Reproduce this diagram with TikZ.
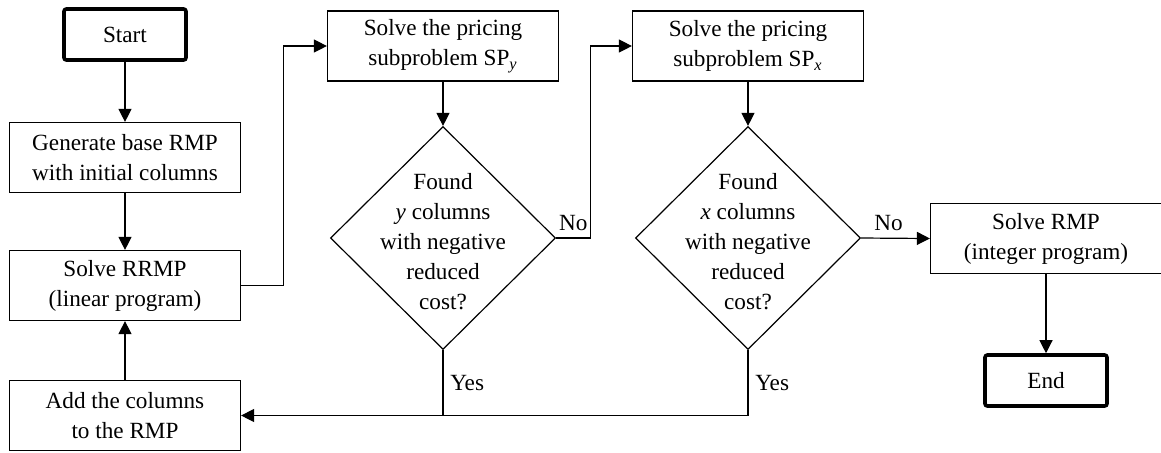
\documentclass[tikz,border=0pt]{standalone}
\usepackage{fontspec}
\setmainfont{Liberation Serif}
\usetikzlibrary{shapes.geometric,arrows.meta}

\tikzset{
  procbox/.style={draw, line width=0.6pt, minimum width=115.5pt, minimum height=35pt, inner sep=0pt, align=center},
  termbox/.style={draw, line width=1.8pt, rounded corners=1.2pt, minimum width=61pt, minimum height=25.5pt, inner sep=0pt},
  decbox/.style={draw, diamond, line width=0.6pt, minimum width=112.5pt, minimum height=111.5pt, inner sep=0pt},
  arr/.style={-{Triangle[length=6.5pt,width=6.5pt]}, line width=0.6pt},
  flow/.style={line width=0.6pt}
}

\begin{document}
\begin{tikzpicture}[x=0.5pt, y=-0.5pt, every node/.style={black, font=\fontsize{11.6}{15}\selectfont}]
	\useasboundingbox (0,0) rectangle (1161,452);

	% left column
	\node[termbox] (start) at (125,34.5) {Start};
	\node[procbox] (gen) at (125,157.5) {Generate base RMP\\with initial columns};
	\node[procbox] (rrmp) at (125,285.5) {Solve RRMP\\(linear program)};
	\node[procbox] (addc) at (125,415.5) {Add the columns\\to the RMP};

	% pricing subproblems
	\node[procbox] (spy) at (443,46) {Solve the pricing\\subproblem SP\textsubscript{\textit{y}}};
	\node[decbox] (diay) at (443,238) {};
	\node[align=center] (diaytext) at (443,242) {Found\\\textit{y} columns\\with negative\\reduced\\cost?};

	\node[procbox] (spx) at (748,46) {Solve the pricing\\subproblem SP\textsubscript{\textit{x}}};
	\node[decbox] (diax) at (748,238) {};
	\node[align=center] (diaxtext) at (748,242) {Found\\\textit{x} columns\\with negative\\reduced\\cost?};

	% final step
	\node[procbox] (rmp) at (1046,238.5) {Solve RMP\\(integer program)};
	\node[termbox] (endn) at (1046,380.5) {End};

	\draw[arr] (start) -- (gen);
	\draw[arr] (gen) -- (rrmp);
	\draw[arr] (addc) -- (rrmp);
	\draw[arr] (rrmp.east) -- ++(42,0) |- (spy.west);
	\draw[arr] (spy) -- (diay);
	\draw[arr] (diay.east) -- node[above] {No} ++(34.5,0) |- (spx.west);
	\draw[arr] (spx) -- (diax);
	\draw[arr] (diax.east) -- node[above, pos=0.4] {No} (rmp.west);
	\draw[arr] (rmp) -- (endn);

	\draw[flow] (diay.south) -- node[right] {Yes} (diay.south |- addc.east);
	\draw[arr] (diax.south) |- node[right, pos=0.25] {Yes} (addc.east);
\end{tikzpicture}
\end{document}
